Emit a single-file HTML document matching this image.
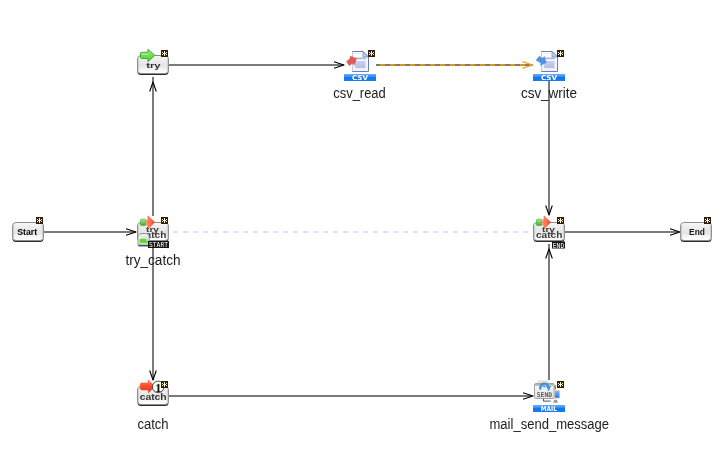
<!DOCTYPE html>
<html><head><meta charset="utf-8"><title>flow</title>
<style>
html,body{margin:0;padding:0;background:#fff;}
body{width:725px;height:462px;overflow:hidden;}
svg{display:block;will-change:transform;}
svg{font-family:"Liberation Sans", "DejaVu Sans", sans-serif;}
</style></head><body>
<svg width="725" height="462" viewBox="0 0 725 462">
<defs>
<linearGradient id="gbox" x1="0" y1="0" x2="0" y2="1">
<stop offset="0" stop-color="#fbfbfb"/>
<stop offset="0.15" stop-color="#f1f1f1"/>
<stop offset="0.6" stop-color="#e4e4e4"/>
<stop offset="0.72" stop-color="#f4f4f4"/>
<stop offset="1" stop-color="#ffffff"/>
</linearGradient>
<linearGradient id="gblue" x1="0" y1="0" x2="0" y2="1">
<stop offset="0" stop-color="#6aaefc"/>
<stop offset="0.45" stop-color="#2a86f4"/>
<stop offset="0.5" stop-color="#1474ec"/>
<stop offset="1" stop-color="#1a7cf0"/>
</linearGradient>
<linearGradient id="ggreen" x1="0" y1="0" x2="0" y2="1">
<stop offset="0" stop-color="#aef094"/>
<stop offset="0.5" stop-color="#66d24e"/>
<stop offset="1" stop-color="#40b432"/>
</linearGradient>
<linearGradient id="ggreen3" x1="0" y1="0" x2="0" y2="1">
<stop offset="0" stop-color="#a4ee84"/>
<stop offset="0.5" stop-color="#74dc54"/>
<stop offset="1" stop-color="#56c83c"/>
</linearGradient>
<linearGradient id="ggreen2" x1="0" y1="0" x2="1" y2="0">
<stop offset="0" stop-color="#3cb038"/>
<stop offset="0.6" stop-color="#58c848"/>
<stop offset="1" stop-color="#ff9080"/>
</linearGradient>
<linearGradient id="gred" x1="0" y1="0" x2="1" y2="0">
<stop offset="0" stop-color="#ff8a7c"/>
<stop offset="1" stop-color="#ff3a1c"/>
</linearGradient>
<linearGradient id="gredv" x1="0" y1="0" x2="0" y2="1">
<stop offset="0" stop-color="#ff9a80"/>
<stop offset="0.45" stop-color="#ff4a30"/>
<stop offset="1" stop-color="#e8301a"/>
</linearGradient>
<linearGradient id="gdoc" x1="0" y1="0" x2="0" y2="1">
<stop offset="0" stop-color="#ffffff"/>
<stop offset="1" stop-color="#eef2fa"/>
</linearGradient>
<linearGradient id="gdocbox" x1="0" y1="0" x2="0" y2="1">
<stop offset="0" stop-color="#c9d2ee"/>
<stop offset="1" stop-color="#b4c0e2"/>
</linearGradient>
<linearGradient id="gmini" x1="0" y1="0" x2="0" y2="1">
<stop offset="0" stop-color="#f4f4f4"/>
<stop offset="0.6" stop-color="#e8e8e8"/>
<stop offset="1" stop-color="#b8b8b8"/>
</linearGradient>
<linearGradient id="gmail" x1="0" y1="0" x2="0" y2="1">
<stop offset="0" stop-color="#c8c8c8"/>
<stop offset="0.15" stop-color="#f6f6f6"/>
<stop offset="1" stop-color="#e2e2e2"/>
</linearGradient>
<linearGradient id="gscreen" x1="0" y1="0" x2="0" y2="1">
<stop offset="0" stop-color="#7ab8ff"/>
<stop offset="1" stop-color="#1f78e8"/>
</linearGradient>
</defs>
<rect width="725" height="462" fill="#fff"/>

<path d="M44 232H136" stroke="#7b7b7b" stroke-width="2"/>
<path d="M153 216V77" stroke="#7b7b7b" stroke-width="2"/>
<path d="M169 65H344" stroke="#7b7b7b" stroke-width="2"/>
<path d="M376 65H531" stroke="#7b7b7b" stroke-width="2"/>
<path d="M380 65H533" stroke="#d6962a" stroke-width="2" stroke-dasharray="5 5"/>
<path d="M549 81V215" stroke="#7b7b7b" stroke-width="2"/>
<path d="M173 232H533" stroke="#dfe0fa" stroke-width="2" stroke-dasharray="5 5"/>
<path d="M153 248V380" stroke="#7b7b7b" stroke-width="2"/>
<path d="M169 396H532" stroke="#7b7b7b" stroke-width="2"/>
<path d="M549 380V244" stroke="#7b7b7b" stroke-width="2"/>
<path d="M565 232H679" stroke="#7b7b7b" stroke-width="2"/>
<path d="M126 228.7L136 232L126 235.3" fill="none" stroke="#000" stroke-width="1.1" stroke-linejoin="round"/>
<path d="M149.7 91.5L153 82L156.3 91.5" fill="none" stroke="#000" stroke-width="1.1" stroke-linejoin="round"/>
<path d="M334 61.7L344 65L334 68.3" fill="none" stroke="#000" stroke-width="1.1" stroke-linejoin="round"/>
<path d="M522.5 61.7L532.5 65L522.5 68.3" fill="none" stroke="#eca21c" stroke-width="1.3" stroke-linejoin="round"/>
<path d="M545.7 205.5L549 215L552.3 205.5" fill="none" stroke="#000" stroke-width="1.1" stroke-linejoin="round"/>
<path d="M149.7 370.5L153 380L156.3 370.5" fill="none" stroke="#000" stroke-width="1.1" stroke-linejoin="round"/>
<path d="M523 392.7L533 396L523 399.3" fill="none" stroke="#000" stroke-width="1.1" stroke-linejoin="round"/>
<path d="M545.7 258.5L549 249L552.3 258.5" fill="none" stroke="#000" stroke-width="1.1" stroke-linejoin="round"/>
<path d="M670 228.7L680 232L670 235.3" fill="none" stroke="#000" stroke-width="1.1" stroke-linejoin="round"/>
<text x="359.5" y="97.8" font-size="13.8" text-anchor="middle" fill="#1c1c1c" textLength="52.5" lengthAdjust="spacingAndGlyphs">csv_read</text>
<text x="549" y="97.6" font-size="13.8" text-anchor="middle" fill="#1c1c1c" textLength="56.2" lengthAdjust="spacingAndGlyphs">csv_write</text>
<text x="153" y="265.2" font-size="13.8" text-anchor="middle" fill="#1c1c1c" textLength="55.2" lengthAdjust="spacingAndGlyphs">try_catch</text>
<text x="153" y="429" font-size="13.8" text-anchor="middle" fill="#1c1c1c" textLength="31.2" lengthAdjust="spacingAndGlyphs">catch</text>
<text x="549.3" y="429" font-size="13.8" text-anchor="middle" fill="#1c1c1c" textLength="119.6" lengthAdjust="spacingAndGlyphs">mail_send_message</text>
<g><rect x="12.5" y="223.5" width="31" height="18.5" rx="3.5" fill="#2c2c2c"/><rect x="12.5" y="222.5" width="31" height="18" rx="3.5" fill="url(#gbox)" stroke="#8e8e8e" stroke-width="1"/><rect x="13.0" y="224.5" width="1.2" height="14" fill="#d2d2d2"/><rect x="41.8" y="224.5" width="1.2" height="14" fill="#d2d2d2"/></g>
<text x="27.2" y="234.8" font-size="9" font-weight="bold" text-anchor="middle" fill="#080808" letter-spacing="0" textLength="20" lengthAdjust="spacingAndGlyphs">Start</text>
<g><rect x="36" y="217" width="7" height="7" fill="#2e1c0e"/><rect x="39" y="218" width="1" height="5" fill="#fff9cc"/><rect x="38" y="220" width="3" height="1" fill="#fff9cc"/><rect x="37" y="219" width="1" height="1" fill="#fff9cc"/><rect x="41" y="219" width="1" height="1" fill="#fff9cc"/><rect x="37" y="221" width="1" height="1" fill="#fff9cc"/><rect x="41" y="221" width="1" height="1" fill="#fff9cc"/></g>
<g><rect x="680.5" y="223.5" width="31" height="18.5" rx="3.5" fill="#2c2c2c"/><rect x="680.5" y="222.5" width="31" height="18" rx="3.5" fill="url(#gbox)" stroke="#8e8e8e" stroke-width="1"/><rect x="681.0" y="224.5" width="1.2" height="14" fill="#d2d2d2"/><rect x="709.8" y="224.5" width="1.2" height="14" fill="#d2d2d2"/></g>
<text x="697" y="234.5" font-size="8.7" font-weight="bold" text-anchor="middle" fill="#1a1a1a" letter-spacing="0" textLength="15.8" lengthAdjust="spacingAndGlyphs">End</text>
<g><rect x="704" y="217" width="7" height="7" fill="#2e1c0e"/><rect x="707" y="218" width="1" height="5" fill="#fff9cc"/><rect x="706" y="220" width="3" height="1" fill="#fff9cc"/><rect x="705" y="219" width="1" height="1" fill="#fff9cc"/><rect x="709" y="219" width="1" height="1" fill="#fff9cc"/><rect x="705" y="221" width="1" height="1" fill="#fff9cc"/><rect x="709" y="221" width="1" height="1" fill="#fff9cc"/></g>
<g><rect x="137.5" y="56.5" width="31" height="18.5" rx="3.5" fill="#2c2c2c"/><rect x="137.5" y="55.5" width="31" height="18" rx="3.5" fill="url(#gbox)" stroke="#8e8e8e" stroke-width="1"/><rect x="138.0" y="57.5" width="1.2" height="14" fill="#d2d2d2"/><rect x="166.8" y="57.5" width="1.2" height="14" fill="#d2d2d2"/></g>
<text x="153.4" y="67.8" font-size="8" font-weight="bold" text-anchor="middle" fill="#2e2e2e" letter-spacing="0" textLength="14.4" lengthAdjust="spacingAndGlyphs">try</text>
<path d="M141.6 52.3H147.9V49.3L154.9 55.3L147.9 61.7V58.5H141.6Q140.4 58.5 140.4 57.3V53.5Q140.4 52.3 141.6 52.3z" fill="url(#ggreen3)" stroke="#26a018" stroke-width="0.8" stroke-linejoin="round"/>
<rect x="142" y="53.4" width="6" height="1.6" fill="#b8f4a0" opacity="0.7"/>
<g><rect x="161" y="50" width="7" height="7" fill="#2e1c0e"/><rect x="164" y="51" width="1" height="5" fill="#fff9cc"/><rect x="163" y="53" width="3" height="1" fill="#fff9cc"/><rect x="162" y="52" width="1" height="1" fill="#fff9cc"/><rect x="166" y="52" width="1" height="1" fill="#fff9cc"/><rect x="162" y="54" width="1" height="1" fill="#fff9cc"/><rect x="166" y="54" width="1" height="1" fill="#fff9cc"/></g>
<g><rect x="137.5" y="223.5" width="31" height="18.5" rx="3.5" fill="#2c2c2c"/><rect x="137.5" y="222.5" width="31" height="18" rx="3.5" fill="url(#gbox)" stroke="#8e8e8e" stroke-width="1"/><rect x="138.0" y="224.5" width="1.2" height="14" fill="#d2d2d2"/><rect x="166.8" y="224.5" width="1.2" height="14" fill="#d2d2d2"/></g><text x="152.5" y="232.4" font-size="7.2" font-weight="bold" text-anchor="middle" fill="#383838" letter-spacing="0" textLength="13" lengthAdjust="spacingAndGlyphs">try</text><text x="153.2" y="238.2" font-size="8.2" font-weight="bold" text-anchor="middle" fill="#383838" letter-spacing="0" textLength="26.4" lengthAdjust="spacingAndGlyphs">catch</text><rect x="140.4" y="219.2" width="5.4" height="6.4" rx="1.2" fill="url(#ggreen)" stroke="#2f9c22" stroke-width="0.6"/><path d="M145.4 219.4h3v6h-3l0.8 -1l-0.8 -1l0.8 -1l-0.8 -1l0.8 -1z" fill="#ff9c90"/><path d="M148 215.9L154.8 222.3L148 228.8z" fill="url(#gred)" stroke="#d8641a" stroke-width="0.6" stroke-linejoin="round"/>
<path d="M138 245.6v-8.8a3 3.2 0 0 1 3 -3.2h5.2a3 3.2 0 0 1 3 3.2v8.8z" fill="url(#gmini)" fill-opacity="0.92" stroke="#8a8a8a" stroke-width="0.8"/>
<path d="M138.6 245.2h10.6v1.2h-10.6z" fill="#3a3a3a"/>
<rect x="139.8" y="238.7" width="8.2" height="4" rx="1" fill="#5ad82a"/>
<rect x="146" y="239.3" width="1.6" height="1.3" fill="#eaffe0"/>
<rect x="148" y="241" width="21" height="7" fill="#151515"/><text x="158.5" y="247" font-size="6.8" text-anchor="middle" fill="#fff" textLength="19" lengthAdjust="spacingAndGlyphs" font-family="DejaVu Sans Mono, monospace">START</text>
<g><rect x="161" y="217" width="7" height="7" fill="#2e1c0e"/><rect x="164" y="218" width="1" height="5" fill="#fff9cc"/><rect x="163" y="220" width="3" height="1" fill="#fff9cc"/><rect x="162" y="219" width="1" height="1" fill="#fff9cc"/><rect x="166" y="219" width="1" height="1" fill="#fff9cc"/><rect x="162" y="221" width="1" height="1" fill="#fff9cc"/><rect x="166" y="221" width="1" height="1" fill="#fff9cc"/></g>
<g><rect x="533.5" y="223.5" width="31" height="18.5" rx="3.5" fill="#2c2c2c"/><rect x="533.5" y="222.5" width="31" height="18" rx="3.5" fill="url(#gbox)" stroke="#8e8e8e" stroke-width="1"/><rect x="534.0" y="224.5" width="1.2" height="14" fill="#d2d2d2"/><rect x="562.8" y="224.5" width="1.2" height="14" fill="#d2d2d2"/></g><text x="548.5" y="232.4" font-size="7.2" font-weight="bold" text-anchor="middle" fill="#383838" letter-spacing="0" textLength="13" lengthAdjust="spacingAndGlyphs">try</text><text x="549.2" y="238.2" font-size="8.2" font-weight="bold" text-anchor="middle" fill="#383838" letter-spacing="0" textLength="26.4" lengthAdjust="spacingAndGlyphs">catch</text><rect x="536.4" y="219.2" width="5.4" height="6.4" rx="1.2" fill="url(#ggreen)" stroke="#2f9c22" stroke-width="0.6"/><path d="M541.4 219.4h3v6h-3l0.8 -1l-0.8 -1l0.8 -1l-0.8 -1l0.8 -1z" fill="#ff9c90"/><path d="M544 215.9L550.8 222.3L544 228.8z" fill="url(#gred)" stroke="#d8641a" stroke-width="0.6" stroke-linejoin="round"/>
<rect x="552" y="241.5" width="13" height="7" fill="#151515"/><text x="558.5" y="247.5" font-size="6.8" text-anchor="middle" fill="#fff" textLength="11.5" lengthAdjust="spacingAndGlyphs" font-family="DejaVu Sans Mono, monospace">END</text>
<g><rect x="557" y="217" width="7" height="7" fill="#2e1c0e"/><rect x="560" y="218" width="1" height="5" fill="#fff9cc"/><rect x="559" y="220" width="3" height="1" fill="#fff9cc"/><rect x="558" y="219" width="1" height="1" fill="#fff9cc"/><rect x="562" y="219" width="1" height="1" fill="#fff9cc"/><rect x="558" y="221" width="1" height="1" fill="#fff9cc"/><rect x="562" y="221" width="1" height="1" fill="#fff9cc"/></g>
<g><rect x="137.5" y="387.5" width="31" height="18.5" rx="3.5" fill="#2c2c2c"/><rect x="137.5" y="386.5" width="31" height="18" rx="3.5" fill="url(#gbox)" stroke="#8e8e8e" stroke-width="1"/><rect x="138.0" y="388.5" width="1.2" height="14" fill="#d2d2d2"/><rect x="166.8" y="388.5" width="1.2" height="14" fill="#d2d2d2"/></g>
<text x="153.2" y="399.6" font-size="8.4" font-weight="bold" text-anchor="middle" fill="#333" letter-spacing="0" textLength="27" lengthAdjust="spacingAndGlyphs">catch</text>
<path d="M141.8 383h6.5v-3.1l6.6 6.6l-6.6 6.4v-3h-6.5a1.6 1.6 0 0 1 -1.6 -1.6v-3.7a1.6 1.6 0 0 1 1.6 -1.6z" fill="url(#gredv)" stroke="#d8501c" stroke-width="0.6"/>
<circle cx="158.2" cy="386.9" r="5.8" fill="#fff" fill-opacity="0.85" stroke="#3a3a3a" stroke-width="0.9"/>
<text x="158.2" y="391.7" font-size="13" font-weight="bold" text-anchor="middle" fill="#111" font-family="Liberation Serif, serif">1</text>
<g><rect x="161" y="381" width="7" height="7" fill="#2e1c0e"/><rect x="164" y="382" width="1" height="5" fill="#fff9cc"/><rect x="163" y="384" width="3" height="1" fill="#fff9cc"/><rect x="162" y="383" width="1" height="1" fill="#fff9cc"/><rect x="166" y="383" width="1" height="1" fill="#fff9cc"/><rect x="162" y="385" width="1" height="1" fill="#fff9cc"/><rect x="166" y="385" width="1" height="1" fill="#fff9cc"/></g>
<path d="M352.5 51.5h10.5l5.5 5.5v14.5h-16z" fill="url(#gdoc)" stroke="#6a7eb0" stroke-width="1"/><path d="M363.0 51.5v5.5h5.5z" fill="#bcd6f4" stroke="#6a7eb0" stroke-width="0.7"/><path d="M352.5 52.0v19" stroke="#c0c6e2" stroke-width="1"/><rect x="353.7" y="52.9" width="8" height="0.8" fill="#e4e8f2"/><rect x="356.0" y="57.6" width="10" height="1.5" fill="#a4b2de"/><rect x="354.9" y="60.7" width="11" height="7.6" fill="url(#gdocbox)" stroke="#f4f6fc" stroke-width="0.6"/>
<path d="M346.4 61.4L349.9 58.7L350.2 56.1L356.6 58.4L354.4 65.3L352.5 63.3L349.3 65.7z" fill="#e2585a" stroke="#d86a50" stroke-width="0.4"/>
<rect x="344" y="74" width="32" height="7" fill="url(#gblue)"/>
<text x="360" y="80.2" font-size="6.6" font-weight="bold" text-anchor="middle" fill="#fff" textLength="16.2" lengthAdjust="spacingAndGlyphs" font-family="DejaVu Sans, sans-serif">CSV</text>
<g><rect x="368" y="50" width="7" height="7" fill="#2e1c0e"/><rect x="371" y="51" width="1" height="5" fill="#fff9cc"/><rect x="370" y="53" width="3" height="1" fill="#fff9cc"/><rect x="369" y="52" width="1" height="1" fill="#fff9cc"/><rect x="373" y="52" width="1" height="1" fill="#fff9cc"/><rect x="369" y="54" width="1" height="1" fill="#fff9cc"/><rect x="373" y="54" width="1" height="1" fill="#fff9cc"/></g>
<path d="M541.5 51.5h10.5l5.5 5.5v14.5h-16z" fill="url(#gdoc)" stroke="#6a7eb0" stroke-width="1"/><path d="M552.0 51.5v5.5h5.5z" fill="#bcd6f4" stroke="#6a7eb0" stroke-width="0.7"/><path d="M541.5 52.0v19" stroke="#c0c6e2" stroke-width="1"/><rect x="542.7" y="52.9" width="8" height="0.8" fill="#e4e8f2"/><rect x="545.0" y="57.6" width="10" height="1.5" fill="#a4b2de"/><rect x="543.9" y="60.7" width="11" height="7.6" fill="url(#gdocbox)" stroke="#f4f6fc" stroke-width="0.6"/>
<path d="M536.1 60.3L539.2 56.2L542.5 58.3L544.3 56.4L546.3 62.6L540.4 65.4L540.9 62.9z" fill="#4f95e6" stroke="#3f80d8" stroke-width="0.4"/>
<rect x="533" y="74" width="32" height="7" fill="url(#gblue)"/>
<text x="549" y="80.2" font-size="6.6" font-weight="bold" text-anchor="middle" fill="#fff" textLength="16.2" lengthAdjust="spacingAndGlyphs" font-family="DejaVu Sans, sans-serif">CSV</text>
<g><rect x="557" y="50" width="7" height="7" fill="#2e1c0e"/><rect x="560" y="51" width="1" height="5" fill="#fff9cc"/><rect x="559" y="53" width="3" height="1" fill="#fff9cc"/><rect x="558" y="52" width="1" height="1" fill="#fff9cc"/><rect x="562" y="52" width="1" height="1" fill="#fff9cc"/><rect x="558" y="54" width="1" height="1" fill="#fff9cc"/><rect x="562" y="54" width="1" height="1" fill="#fff9cc"/></g>
<rect x="538.6" y="381" width="9.4" height="3" fill="#ece8e0" stroke="#c8c0b0" stroke-width="0.5"/>
<rect x="534.5" y="383.5" width="19.6" height="15" rx="1" fill="url(#gmail)" stroke="#a4a4a4" stroke-width="1"/>
<rect x="535" y="384" width="18.6" height="1.8" fill="#b4b4b4"/>
<path d="M540.4 389.6C539.6 385.6 541.8 383.6 544.2 383.6C546.2 383.6 547.6 384.6 548.2 386.4" fill="none" stroke="#3a8ce8" stroke-width="2.2"/>
<path d="M545.9 386.1L551 386L548.7 391.4z" fill="#4496ee"/>
<path d="M542.6 386.8a1.6 1.6 0 0 1 2.6 0.4" fill="none" stroke="#3a8ce8" stroke-width="1.2"/>
<text x="544.4" y="397.1" font-size="6.6" font-weight="bold" text-anchor="middle" fill="#5c5c5c" textLength="15.4" lengthAdjust="spacingAndGlyphs" font-family="DejaVu Sans Mono, monospace">SEND</text>
<path d="M555.2 385.3v4" stroke="#222" stroke-width="0.8"/>
<rect x="554.8" y="390.8" width="4.6" height="7.2" fill="url(#gscreen)" stroke="#d8b890" stroke-width="0.7"/>
<path d="M553 402.8l1.2 -3h2.6l1.2 3z" fill="#9a9a9a"/>
<path d="M543.4 398.8v2.3h7.3" fill="none" stroke="#222" stroke-width="0.8"/>
<rect x="533" y="405" width="32" height="7" fill="url(#gblue)"/>
<text x="548.9" y="411" font-size="6.5" font-weight="bold" text-anchor="middle" fill="#fff" textLength="16.2" lengthAdjust="spacingAndGlyphs" font-family="DejaVu Sans, sans-serif">MAIL</text>
<g><rect x="557" y="381" width="7" height="7" fill="#2e1c0e"/><rect x="560" y="382" width="1" height="5" fill="#fff9cc"/><rect x="559" y="384" width="3" height="1" fill="#fff9cc"/><rect x="558" y="383" width="1" height="1" fill="#fff9cc"/><rect x="562" y="383" width="1" height="1" fill="#fff9cc"/><rect x="558" y="385" width="1" height="1" fill="#fff9cc"/><rect x="562" y="385" width="1" height="1" fill="#fff9cc"/></g>
</svg></body></html>
